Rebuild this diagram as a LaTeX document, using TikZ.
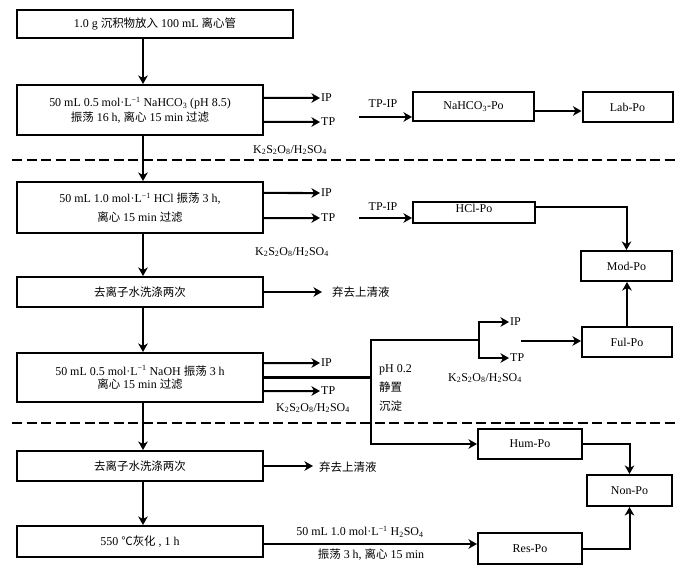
\documentclass[tikz,border=0pt]{standalone}
\usepackage{fontspec}
\setmainfont{Liberation Serif}
\newfontfamily\cjk[Scale=0.96]{Noto Sans CJK SC}
\usepackage{tikz}
\usetikzlibrary{arrows.meta}
\newcommand{\zw}[1]{{\cjk #1}}
\newcommand{\oxid}{K\textsubscript{2}S\textsubscript{2}O\textsubscript{8}/H\textsubscript{2}SO\textsubscript{4}}

\begin{document}
\begin{tikzpicture}[
    x=1bp, y=-1bp,
    font=\fontsize{12}{15}\selectfont,
    box/.style={draw, line width=2bp, inner sep=0pt, align=center},
    lbox/.style={box, minimum width=246bp},
    arr/.style={line width=2bp, -{Stealth[length=8.5bp,width=9.5bp,inset=2.5bp]}},
    ln/.style={line width=2bp},
    sep/.style={line width=2bp, dash pattern=on 10bp off 4.5bp},
    tag/.style={inner sep=1bp}
    ]
    \useasboundingbox (0,0) rectangle (684,573);
    \coordinate (trunk) at (143,0);
    % left column
    \node[box, minimum width=276bp, minimum height=28bp] (sed) at (155,24) {1.0 g \zw{沉积物放入} 100 mL \zw{离心管}};
    \node[lbox, minimum height=50bp] (nahco) at (140,110) {50 mL 0.5 mol·L\textsuperscript{−1} NaHCO\textsubscript{3} (pH 8.5)\\\zw{振荡} 16 h, \zw{离心} 15 min \zw{过滤}};
    \node[lbox, minimum height=51bp, font=\fontsize{12}{19}\selectfont] (hcl) at (140,207.5) {50 mL 1.0 mol·L\textsuperscript{−1} HCl \zw{振荡} 3 h,\\\zw{离心} 15 min \zw{过滤}};
    \node[lbox, minimum height=30bp] (wash1) at (140,292) {\zw{去离子水洗涤两次}};
    \node[lbox, minimum height=49bp, font=\fontsize{12}{13.5}\selectfont] (naoh) at (140,377.5) {50 mL 0.5 mol·L\textsuperscript{−1} NaOH \zw{振荡} 3 h\\\zw{离心} 15 min \zw{过滤}};
    \node[lbox, minimum height=30bp] (wash2) at (140,466) {\zw{去离子水洗涤两次}};
    \node[lbox, minimum height=31bp] (ash) at (140,541.5) {550 \zw{℃灰化} , 1 h};
    \draw[arr] (sed.south -| trunk) -- (nahco.north -| trunk);
    \draw[arr] (nahco.south -| trunk) -- (hcl.north -| trunk);
    \draw[arr] (hcl.south -| trunk) -- (wash1.north -| trunk);
    \draw[arr] (wash1.south -| trunk) -- (naoh.north -| trunk);
    \draw[arr] (naoh.south -| trunk) -- (wash2.north -| trunk);
    \draw[arr] (wash2.south -| trunk) -- (ash.north -| trunk);
    % separators
    \draw[sep] (12,160) -- (675,160);
    \draw[sep] (12,423) -- (675,423);
    % IP / TP outputs
    \node[tag, anchor=west] (ip1) at (320,98) {IP};
    \node[tag, anchor=west] (tp1) at (320,122) {TP};
    \node[tag, anchor=west] (ip2) at (320,193) {IP};
    \node[tag, anchor=west] (tp2) at (320,218) {TP};
    \node[tag, anchor=west] (ip3) at (320,363) {IP};
    \node[tag, anchor=west] (tp3) at (320,391) {TP};
    \draw[arr] ([yshift=12bp]nahco.east) -- (ip1.west);
    \draw[arr] ([yshift=-12bp]nahco.east) -- (tp1.west);
    \draw[arr] ([yshift=14.5bp]hcl.east) -- (ip2.west);
    \draw[arr] ([yshift=-10.5bp]hcl.east) -- (tp2.west);
    \draw[arr] ([yshift=14.5bp]naoh.east) -- (ip3.west);
    \draw[arr] ([yshift=-13.5bp]naoh.east) -- (tp3.west);
    \node[tag] (ox1) at (290,150) {\oxid};
    \node[tag] (ox2) at (292,252) {\oxid};
    \node[tag] (ox3) at (313,408) {\oxid};
    % discarded supernatant
    \node[tag, anchor=west] (dis1) at (331,292) {\zw{弃去上清液}};
    \node[tag, anchor=west] (dis2) at (318,467) {\zw{弃去上清液}};
    \draw[arr, shorten >=9bp] (wash1.east) -- (wash1.east -| dis1.west);
    \draw[arr, shorten >=5bp] (wash2.east) -- (wash2.east -| dis2.west);
    % pools
    \node[box, minimum width=121bp, minimum height=29bp] (napo) at (473.5,106.5) {NaHCO\textsubscript{3}-Po};
    \node[box, minimum width=90bp, minimum height=30bp] (labpo) at (627.5,107) {Lab-Po};
    \node[box, minimum width=122bp, minimum height=21bp, text height=8bp, text depth=8bp] (hclpo) at (474,212.5) {HCl-Po};
    \node[box, minimum width=91bp, minimum height=30bp] (modpo) at (626.5,266) {Mod-Po};
    \node[box, minimum width=90bp, minimum height=30bp] (fulpo) at (627,342) {Ful-Po};
    \node[box, minimum width=104bp, minimum height=30bp] (humpo) at (530,444) {Hum-Po};
    \node[box, minimum width=85bp, minimum height=31bp] (nonpo) at (629.5,490.5) {Non-Po};
    \node[box, minimum width=104bp, minimum height=31bp] (respo) at (530,548.5) {Res-Po};
    % TP-IP
    \node[tag] (tpip1) at (383,104) {TP-IP};
    \node[tag] (tpip2) at (383,207) {TP-IP};
    \coordinate (tps1) at (359,117);
    \coordinate (tps2) at (359,218);
    \draw[arr] (tps1) -- (tps1 -| napo.west);
    \draw[arr] (tps2) -- (tps2 -| hclpo.west);
    \coordinate (nl) at ([yshift=-4.5bp]napo.east);
    \draw[arr] (nl) -- (nl -| labpo.west);
    \coordinate (hl) at ([yshift=5.5bp]hclpo.east);
    \draw[arr] (hl) -| (modpo.north);
    \draw[arr] (fulpo.north) -- (fulpo.north |- modpo.south);
    % acid precipitation
    \coordinate (jn) at (371,377.5);
    \coordinate (fork) at (479,340);
    \draw[line width=2.6bp] (naoh.east) -- (jn);
    \draw[ln] (jn) |- (fork);
    \draw[arr] (jn) |- (humpo.west);
    \node[tag, anchor=west, align=left, font=\fontsize{12}{19.5}\selectfont] (ppt) at (378,388) {pH 0.2\\\zw{静置}\\\zw{沉淀}};
    \node[tag, anchor=west] (ip4) at (509,322) {IP};
    \node[tag, anchor=west] (tp4) at (509,358) {TP};
    \draw[arr] (fork) |- (ip4.west);
    \draw[arr] (fork) |- (tp4.west);
    \node[tag] (ox4) at (485,378) {\oxid};
    \coordinate (fs) at (521,341);
    \draw[arr] (fs) -- (fs -| fulpo.west);
    % residue
    \draw[arr] (humpo.east) -| (nonpo.north);
    \draw[arr] (respo.east) -| (nonpo.south);
    \coordinate (rl) at ([yshift=-2.5bp]ash.east);
    \draw[arr] (rl) -- (rl -| respo.west);
    \node[tag] (h2so) at (360,532) {50 mL 1.0 mol·L\textsuperscript{−1} H\textsubscript{2}SO\textsubscript{4}};
    \node[tag] (shake) at (371,555) {\zw{振荡} 3 h, \zw{离心} 15 min};
\end{tikzpicture}
\end{document}
